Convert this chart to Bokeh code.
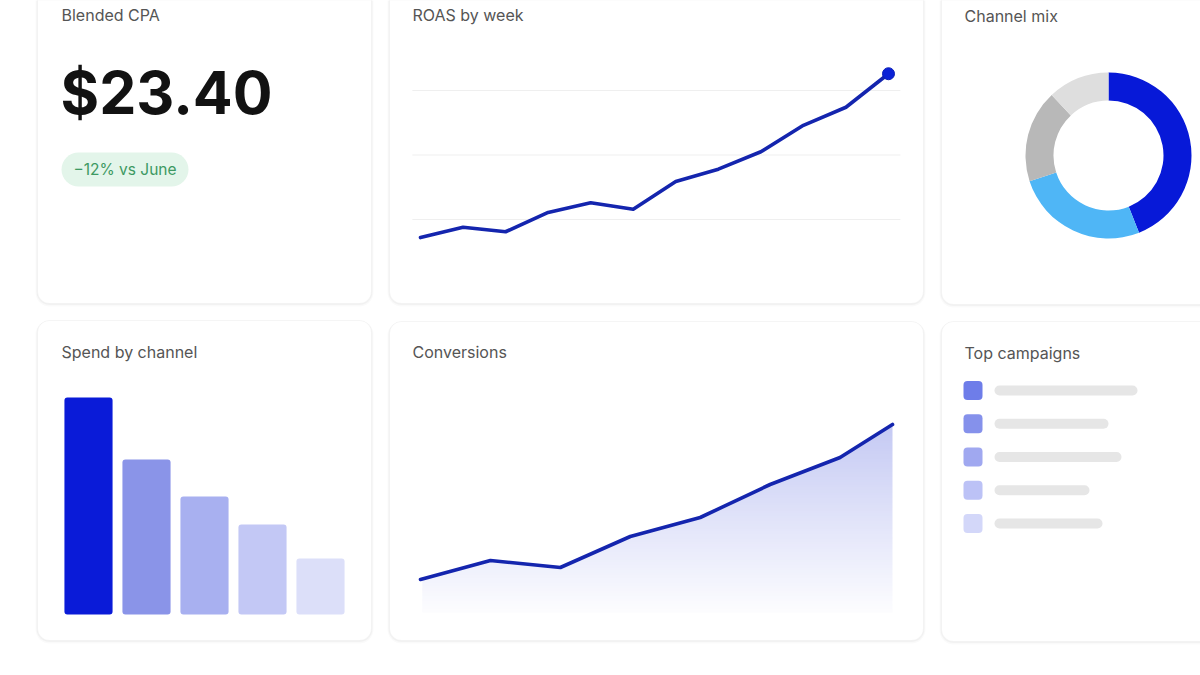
import numpy as np
from bokeh.plotting import figure
from bokeh.models import Range1d, BoxAnnotation
from bokeh.core.properties import value
from bokeh.embed import file_html
from bokeh.resources import INLINE

# ---------------- data ----------------
cpa_value = 23.40
cpa_change_pct = -12
cpa_compare = "June"

roas_weeks = [1, 2, 3, 4, 5, 6, 7, 8, 9, 10, 11, 12]
roas_values = [1.72, 1.88, 1.81, 2.11, 2.26, 2.16, 2.59, 2.78, 3.05, 3.46, 3.74, 4.26]
roas_grid = [2, 3, 4]

mix_channels = ["Search", "Social", "Display", "Other"]
mix_share = [0.44, 0.26, 0.18, 0.12]
mix_colors = ["#0719d8", "#4fb6f6", "#b8b8b8", "#dedede"]

spend_channels = ["Search", "Social", "Display", "Video", "Email"]
spend_values = [43.4, 31.0, 23.6, 18.0, 11.2]
spend_colors = ["#0a1bd8", "#8a94e8", "#a8b0f0", "#c3c8f5", "#dcdff9"]

conv_x = [0, 1, 2, 3, 4, 5, 6, 6.75]
conv_values = [330, 520, 450, 760, 950, 1280, 1550, 1880]

camp_rank = [1, 2, 3, 4, 5]
camp_values = [143, 114, 127, 95, 108]
camp_colors = ["#6e7de9", "#8591eb", "#a0a8f0", "#bcc2f6", "#d3d7f9"]

FONT = value("Inter")
TITLE_COLOR = "#555555"

# ---------------- page ----------------
W, H = 1200, 675
p = figure(width=W, height=H, x_range=Range1d(0, W), y_range=Range1d(H, 0),
           output_backend="svg", toolbar_location=None, min_border=0,
           x_axis_location=None, y_axis_location=None)
p.grid.visible = False
p.outline_line_color = None
p.background_fill_color = "#ffffff"
p.border_fill_color = "#ffffff"

cards = [
    (37, 371, -20, 303), (389, 923, -20, 303), (941, 1225, -20, 304),
    (37, 371, 320, 640), (389, 923, 321, 640), (941, 1225, 321, 641),
]
for (l, r, t, b) in cards:
    p.add_layout(BoxAnnotation(left=l - 2, right=r + 2, top=t, bottom=b + 3,
                               fill_color="#000000", fill_alpha=0.02,
                               line_color=None, border_radius=14, level="underlay"))
    p.add_layout(BoxAnnotation(left=l - 1, right=r + 1, top=t, bottom=b + 1.5,
                               fill_color="#000000", fill_alpha=0.03,
                               line_color=None, border_radius=13, level="underlay"))
    p.add_layout(BoxAnnotation(left=l, right=r, top=t, bottom=b,
                               fill_color="#ffffff", fill_alpha=1,
                               line_color="#e6e6e6", line_width=1,
                               border_radius=12, level="underlay"))

# titles
titles = [("Blended CPA", 61, 14), ("ROAS by week", 412, 14), ("Channel mix", 964, 15),
          ("Spend by channel", 61, 351), ("Conversions", 412, 351), ("Top campaigns", 964, 352)]
p.text(x=[t[1] for t in titles], y=[t[2] for t in titles], text=[t[0] for t in titles],
       text_font=FONT, text_font_size="16px", text_color=TITLE_COLOR,
       text_baseline="middle", text_align="left")

# KPI
p.text(x=[60], y=[92], text=[f"${cpa_value:.2f}"], text_font=FONT,
       text_font_size="59px", text_font_style="bold", text_color="#121212",
       text_baseline="middle", text_align="left")
p.quad(left=[61], right=[188], top=[152], bottom=[186], border_radius=17,
       fill_color="#e3f5ea", line_color=None)
p.text(x=[124.5], y=[169], text=[f"\u2212{abs(cpa_change_pct)}% vs {cpa_compare}"],
       text_font=FONT, text_font_size="15.5px", text_color="#3d9962",
       text_baseline="middle", text_align="center")

# ---------------- ROAS by week ----------------
roas = p.subplot(x_source=Range1d(1, 12), y_source=Range1d(2, 4),
                 x_target=Range1d(420, 888), y_target=Range1d(219, 90))
roas.segment(x0=[0.81] * len(roas_grid), x1=[12.28] * len(roas_grid),
             y0=roas_grid, y1=roas_grid, line_color="#efefef", line_width=1)
roas.line(roas_weeks, roas_values, line_color="#1425ae", line_width=3.6,
          line_join="round", line_cap="round")
roas.scatter([roas_weeks[-1]], [roas_values[-1]], size=12,
             fill_color="#0b22d6", line_color="#0b1fb8", line_width=1)

# ---------------- Channel mix donut ----------------
mix = p.subplot(x_source=Range1d(-1, 1), y_source=Range1d(-1, 1),
                x_target=Range1d(1025, 1191), y_target=Range1d(238, 72))
cum = np.concatenate([[0], np.cumsum(mix_share)])
start = [np.pi / 2 - 2 * np.pi * cum[i + 1] for i in range(len(mix_share))]
end = [np.pi / 2 - 2 * np.pi * cum[i] for i in range(len(mix_share))]
mix.annular_wedge(x=0, y=0, inner_radius=55, outer_radius=83,
                  inner_radius_units="screen", outer_radius_units="screen",
                  start_angle=start, end_angle=end, fill_color=mix_colors,
                  line_color=None)

# ---------------- Spend by channel ----------------
spend = p.subplot(x_source=Range1d(1, 5), y_source=Range1d(0, max(spend_values)),
                  x_target=Range1d(88, 320), y_target=Range1d(614, 397))
spend.vbar(x=list(range(1, len(spend_values) + 1)), top=spend_values, bottom=0,
           width=0.83, fill_color=spend_colors, line_color=None, border_radius=3)

# ---------------- Conversions ----------------
c_top = max(conv_values)
conv = p.subplot(x_source=Range1d(0, conv_x[-1]), y_source=Range1d(0, c_top),
                 x_target=Range1d(420, 892), y_target=Range1d(612, 424))
# vertical gradient (bottom faint -> top stronger), masked above the line
n_rows = 188
frac = (np.arange(n_rows) + 0.5) / n_rows
alpha = (0.015 + (0.30 - 0.015) * frac) * 255
r, g, b = 0x3a, 0x4a, 0xd8
rgba = ((alpha.astype(np.uint32) << 24) | (b << 16) | (g << 8) | r).astype(np.uint32)
img = np.repeat(rgba[:, None], 2, axis=1)
inset = 0.025
conv.image_rgba(image=[img], x=inset, y=0, dw=conv_x[-1] - inset, dh=c_top)
conv.varea(x=conv_x, y1=conv_values, y2=c_top * 1.02, fill_color="#ffffff")
conv.line(conv_x, conv_values, line_color="#1425ae", line_width=3.6,
          line_join="round", line_cap="round")

# ---------------- Top campaigns ----------------
camp = p.subplot(x_source=Range1d(0, 143), y_source=Range1d(1, 5),
                 x_target=Range1d(994, 1137), y_target=Range1d(390, 523))
camp.hbar(y=camp_rank, left=0, right=camp_values, height=0.30,
          fill_color="#e6e6e6", line_color=None, border_radius=5)
camp.hbar(y=camp_rank, left=-31, right=-12, height=0.57,
          fill_color=camp_colors, line_color=None, border_radius=4)

open("out.html", "w").write(file_html(p, INLINE))
